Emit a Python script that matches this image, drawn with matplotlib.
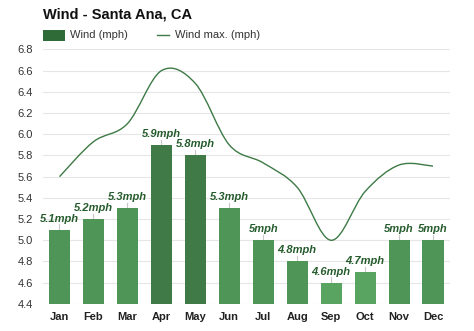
import matplotlib
matplotlib.use("Agg")
import matplotlib.pyplot as plt
from matplotlib.path import Path
from matplotlib.patches import PathPatch, Rectangle
from matplotlib.lines import Line2D
import numpy as np

plt.rcParams['font.family'] = ['Liberation Sans', 'DejaVu Sans']

months = ["Jan", "Feb", "Mar", "Apr", "May", "Jun", "Jul", "Aug", "Sep", "Oct", "Nov", "Dec"]
wind = [5.1, 5.2, 5.3, 5.9, 5.8, 5.3, 5.0, 4.8, 4.6, 4.7, 5.0, 5.0]
wind_labels = ["5.1mph", "5.2mph", "5.3mph", "5.9mph", "5.8mph", "5.3mph", "5mph", "4.8mph", "4.6mph", "4.7mph", "5mph", "5mph"]
wind_max = [5.6, 5.93, 6.1, 6.6, 6.48, 5.9, 5.73, 5.5, 5.0, 5.46, 5.71, 5.70]
yticks = [4.4, 4.6, 4.8, 5.0, 5.2, 5.4, 5.6, 5.8, 6.0, 6.2, 6.4, 6.6, 6.8]

bar_colors = ["#4f9558", "#4f9558", "#4f9558", "#3f7a47", "#3f7a47", "#4f9558",
              "#4f9558", "#4f9558", "#5aa462", "#5aa462", "#4f9558", "#4f9558"]
line_color = "#3d7a45"

fig = plt.figure(figsize=(4.74, 3.31), dpi=100)
ax = fig.add_axes([0.0897, 0.0819, 0.8596, 0.7686])

x = np.arange(len(months))
ax.set_xlim(-0.5, len(months) - 0.5)
ax.set_ylim(4.4, 6.8)

for yt in yticks:
    ax.axhline(yt, color="#e6e6e6", lw=0.8, zorder=0)

ax.bar(x, [w - 4.4 for w in wind], bottom=4.4, width=0.62, color=bar_colors, zorder=2)

for xi, w, lab in zip(x, wind, wind_labels):
    ax.plot([xi, xi], [w, w + 0.05], color="#c8c8c8", lw=0.8, zorder=1)
    ax.text(xi, w + 0.105, lab, ha="center", va="center", fontsize=8,
            fontweight="bold", fontstyle="italic", color="#265c2d", zorder=4)

# smooth curve through wind max points (Catmull-Rom -> cubic Bezier)
pts = np.column_stack([x, wind_max]).astype(float)
verts = [tuple(pts[0])]
codes = [Path.MOVETO]
n = len(pts)
for i in range(n - 1):
    p0 = pts[i - 1] if i > 0 else pts[i]
    p1 = pts[i]
    p2 = pts[i + 1]
    p3 = pts[i + 2] if i + 2 < n else pts[i + 1]
    c1 = p1 + (p2 - p0) / 6.0
    c2 = p2 - (p3 - p1) / 6.0
    verts += [tuple(c1), tuple(c2), tuple(p2)]
    codes += [Path.CURVE4, Path.CURVE4, Path.CURVE4]
ax.add_patch(PathPatch(Path(verts, codes), facecolor="none", edgecolor=line_color, lw=1.0, zorder=3))

ax.set_yticks(yticks)
ax.set_yticklabels([f"{v:.1f}" for v in yticks], fontsize=8, color="#333333")
ax.set_xticks(x)
ax.set_xticklabels(months, fontsize=8, fontweight="bold", color="#222222")
ax.tick_params(axis="y", length=0, pad=7)
ax.tick_params(axis="x", length=0, pad=6)
for s in ax.spines.values():
    s.set_visible(False)

fig.text(0.0905, 0.955, "Wind - Santa Ana, CA", fontsize=10.5, fontweight="bold", color="#111111",
         ha="left", va="center")

# legend drawn manually
fig.add_artist(Rectangle((0.0907, 0.876), 0.0465, 0.033, transform=fig.transFigure,
                         facecolor="#2e6b36", edgecolor="none"))
fig.text(0.1477, 0.893, "Wind (mph)", fontsize=8, color="#333333", ha="left", va="center")
fig.add_artist(Line2D([0.331, 0.357], [0.893, 0.893], transform=fig.transFigure,
                      color=line_color, lw=1.0))
fig.text(0.369, 0.893, "Wind max. (mph)", fontsize=8, color="#333333", ha="left", va="center")

fig.savefig("out.png", dpi=100, facecolor="white")
